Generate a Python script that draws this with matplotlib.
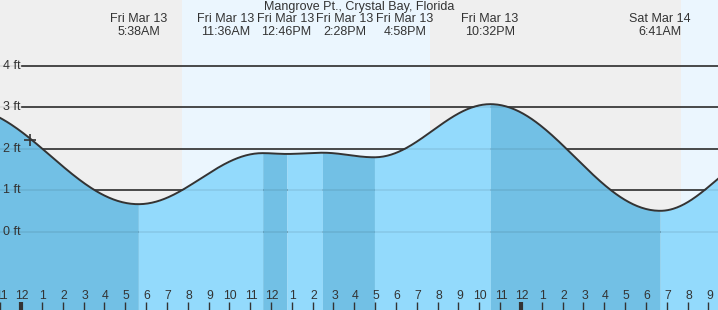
import numpy as np
import matplotlib
matplotlib.use("Agg")
import matplotlib.pyplot as plt

plt.rcParams['font.family'] = ['Liberation Sans', 'DejaVu Sans']

# hours counted from midnight Fri Mar 13
title = "Mangrove Pt., Crystal Bay, Florida"
tide_hours = [-2.8, 5.633, 11.6, 12.767, 14.467, 16.967, 22.533, 30.683, 36.0]
tide_heights = [3.0, 0.67, 1.90, 1.88, 1.91, 1.80, 3.08, 0.51, 1.95]
tide_days = ["", "Fri Mar 13", "Fri Mar 13", "Fri Mar 13", "Fri Mar 13",
             "Fri Mar 13", "Fri Mar 13", "Sat Mar 14", ""]
tide_times = ["", "5:38AM", "11:36AM", "12:46PM", "2:28PM", "4:58PM",
              "10:32PM", "6:41AM", ""]
sun_rise_set = [7.73, 19.63, 31.68]
now_hour, now_height = 0.43, 2.22
y_levels = [0, 1, 2, 3, 4]

x_min, x_max = -1.01, 33.46
y_min, y_max = -1.88, 5.59
W, H = 718, 310

# label centres in pixels (crowded labels get pushed apart like the original)
label_px = [None, 139, 226, 286, 345, 405, 490, 660, None]

night = '#efefef'
day = '#ebf6fe'
rising = '#93dafc'
falling = '#72c0e5'
ink = '#333333'

fig = plt.figure(figsize=(W / 100, H / 100), dpi=100)
ax = fig.add_axes([0, 0, 1, 1])
ax.set_xlim(x_min, x_max)
ax.set_ylim(y_min, y_max)
ax.axis('off')

# day / night background
ax.axvspan(x_min, x_max, color=night, zorder=0)
ax.axvspan(sun_rise_set[0], sun_rise_set[1], color=day, zorder=0.5, lw=0)
ax.axvspan(sun_rise_set[2], x_max, color=day, zorder=0.5, lw=0)

# grid lines + labels
for lv in y_levels:
    ax.axhline(lv, xmin=22 / W, xmax=1, color=ink, lw=1.2, zorder=1)
    ax.axhline(lv, color='#000000', alpha=0.08, lw=1.2, zorder=4)
    ax.text(3 / W, lv, f"{lv} ft", transform=ax.get_yaxis_transform(),
            ha='left', va='center', fontsize=9, color=ink, zorder=5)

# tide curve, cosine easing between highs and lows
xs, ys = [], []
for i in range(len(tide_hours) - 1):
    t0, t1 = tide_hours[i], tide_hours[i + 1]
    h0, h1 = tide_heights[i], tide_heights[i + 1]
    t = np.linspace(t0, t1, 120)
    h = h1 + (h0 - h1) * (1 + np.cos(np.pi * (t - t0) / (t1 - t0))) / 2
    col = falling if h1 < h0 else rising
    ax.fill_between(t, y_min, h, color=col, lw=0, zorder=2)
    xs.append(t)
    ys.append(h)
ax.plot(np.concatenate(xs), np.concatenate(ys), color=ink, lw=1.4, zorder=6)

ax.plot(now_hour, now_height, marker='+', color=ink, ms=8, mew=1.2, zorder=7)

# event labels
for px, d, tm in zip(label_px, tide_days, tide_times):
    if px is None:
        continue
    ax.text(px / W, 1 - 19 / H, d, transform=ax.transAxes,
            ha='center', va='center', fontsize=9, color=ink, zorder=8)
    ax.text(px / W, 1 - 32 / H, tm, transform=ax.transAxes,
            ha='center', va='center', fontsize=9, color=ink, zorder=8)

ax.text(0.5, 1 - 7 / H, title, transform=ax.transAxes, ha='center',
        va='center', fontsize=9, color=ink, zorder=8)

# hour ticks at the bottom (first label is clipped by the edge, as in the original)
for hr in range(int(np.ceil(x_min)), int(np.floor(x_max)) + 1):
    lab = hr % 12
    if lab == 0:
        lab = 12
    thick = hr % 24 == 0
    ax.plot([hr, hr], [0, 8 / H], transform=ax.get_xaxis_transform(),
            color=ink, lw=3 if thick else 1, zorder=8, solid_capstyle='butt')
    ax.text(hr + 0.05, 14 / H, str(lab), transform=ax.get_xaxis_transform(),
            ha='center', va='center', fontsize=8.8, color=ink, zorder=8)

fig.savefig("out.png", dpi=100)
